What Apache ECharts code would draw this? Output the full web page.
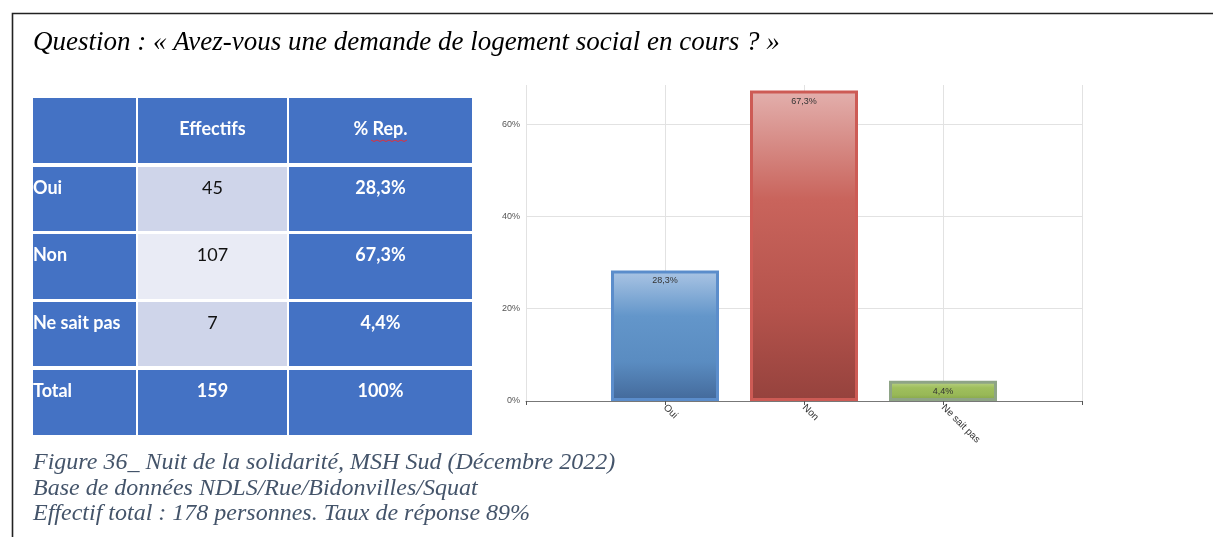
<!DOCTYPE html>
<html>
<head>
<meta charset="utf-8">
<script src="https://cdn.jsdelivr.net/npm/echarts@6/dist/echarts.min.js"></script>
<style>
  html, body { margin: 0; padding: 0; background: #fff; }
  #chart { width: 1213px; height: 537px; }
</style>
</head>
<body>
<div id="chart"></div>
<script>
// données du tableau / graphique
const question = 'Question : « Avez-vous une demande de logement social en cours ? »';
const categories = ['Oui', 'Non', 'Ne sait pas'];
const counts = [45, 107, 7];
const percents = [28.3, 67.3, 4.4];
const totalLabel = 'Total';
const totalCount = 159;
const totalPercent = '100%';
const headers = ['', 'Effectifs', '% Rep.'];
const yTicks = [0, 20, 40, 60];
const captionLines = [
    'Figure 36_ Nuit de la solidarité, MSH Sud (Décembre 2022)',
    'Base de données NDLS/Rue/Bidonvilles/Squat',
    'Effectif total : 178 personnes. Taux de réponse 89%'
];

// couleurs des barres (haut -> bas)
const barStyles = [
    { stops: ['#abc5e4', '#6396ca', '#5a8cc1', '#43699a'], border: '#5b8dcb' },
    { stops: ['#e3b0ad', '#c9645c', '#b5534c', '#95423d'], border: '#cd5b55' },
    { stops: ['#c0d68f', '#9fbf5d', '#98b857', '#80a046'], border: '#8ea486' }
];

const fmtPct = v => v.toFixed(1).replace('.', ',') + '%';

const chart = echarts.init(document.getElementById('chart'), null, { renderer: 'canvas' });

// tableau a gauche
const colX = [33, 138, 289];
const colW = [103, 149, 183];
const rowY = [98, 167, 234, 302, 370];
const rowH = [65, 64, 65, 64, 65];
const BLUE = '#4472c4';
const lightCells = ['#cfd5ea', '#e9ebf5', '#cfd5ea'];
const FONT = 'Lato, "Open Sans", sans-serif';

const graphics = [];

// cadre
graphics.push({
    type: 'polyline',
    shape: { points: [[12.5, 537], [12.5, 13.5], [1213, 13.5]] },
    style: { stroke: '#222', lineWidth: 1.6, fill: null }
});

graphics.push({
    type: 'text',
    style: {
        text: question, x: 33, y: 43, fill: '#000',
        font: 'italic 27px "Liberation Serif", "DejaVu Serif", serif',
        textVerticalAlign: 'middle'
    }
});

const rows = [headers];
categories.forEach((c, i) => rows.push([c, String(counts[i]), fmtPct(percents[i])]));
rows.push([totalLabel, String(totalCount), totalPercent]);

rows.forEach((row, r) => {
    row.forEach((txt, c) => {
        let fill = BLUE;
        let color = '#fff';
        let bold = true;
        if (r >= 1 && r <= categories.length && c === 1) {
            fill = lightCells[r - 1];
            color = '#111';
            bold = false;
        }
        graphics.push({
            type: 'rect',
            shape: { x: colX[c], y: rowY[r], width: colW[c], height: rowH[r] },
            style: { fill: fill }
        });
        if (txt) {
            const ty = r === 0 ? rowY[r] + 31 : rowY[r] + 21;
            graphics.push({
                type: 'text',
                style: {
                    text: txt,
                    x: c === 0 ? colX[c] : colX[c] + colW[c] / 2,
                    y: ty,
                    fill: color,
                    font: (bold ? 'bold ' : '') + '18px ' + FONT,
                    textAlign: c === 0 ? 'left' : 'center',
                    textVerticalAlign: 'middle'
                }
            });
        }
    });
});

// soulignement ondule rouge sous "Rep."
const wave = [];
for (let i = 0; i <= 12; i++) {
    wave.push([371 + i * 3, 140 + (i % 2 ? 1.5 : 0)]);
}
graphics.push({
    type: 'polyline',
    shape: { points: wave },
    style: { stroke: '#e0303a', lineWidth: 1, fill: null }
});

captionLines.forEach((line, i) => {
    graphics.push({
        type: 'text',
        style: {
            text: line, x: 33, y: 463 + i * 25.5, fill: '#44546a',
            font: 'italic 24px "Liberation Serif", "DejaVu Serif", serif',
            textVerticalAlign: 'middle'
        }
    });
});

const barData = categories.map((c, i) => ({
    value: percents[i],
    itemStyle: {
        color: new echarts.graphic.LinearGradient(0, 0, 0, 1, [
            { offset: 0, color: barStyles[i].stops[0] },
            { offset: 0.35, color: barStyles[i].stops[1] },
            { offset: 0.7, color: barStyles[i].stops[2] },
            { offset: 1, color: barStyles[i].stops[3] }
        ]),
        borderColor: barStyles[i].border,
        borderWidth: 3
    }
}));

const option = {
    animation: false,
    backgroundColor: '#fff',
    grid: { left: 526, right: 131, top: 85, bottom: 136, containLabel: false },
    xAxis: {
        type: 'category',
        data: [''].concat(categories, ['']),
        boundaryGap: false,
        axisLine: { show: true, lineStyle: { color: '#777', width: 1 } },
        axisTick: { show: true, length: 4, lineStyle: { color: '#555' } },
        splitLine: { show: true, lineStyle: { color: '#e2e2e2', width: 1 } },
        axisLabel: {
            interval: 0, rotate: -45, fontSize: 10, color: '#333', margin: 5,
            fontFamily: 'Arial, "Liberation Sans", sans-serif'
        }
    },
    yAxis: {
        type: 'value',
        min: 0,
        max: 68.5,
        interval: 20,
        axisLine: { show: false },
        axisTick: { show: false },
        splitLine: { show: true, showMaxLine: false, lineStyle: { color: '#e2e2e2', width: 1 } },
        axisLabel: {
            showMaxLabel: false,
            fontSize: 9, color: '#555', margin: 6,
            fontFamily: 'Arial, "Liberation Sans", sans-serif',
            formatter: v => (yTicks.indexOf(v) >= 0 ? v + '%' : '')
        }
    },
    series: [{
        type: 'bar',
        barWidth: 108,
        data: [null].concat(barData, [null]),
        label: {
            show: true,
            position: 'insideTop',
            distance: 6,
            fontSize: 9,
            color: '#333',
            fontFamily: 'Arial, "Liberation Sans", sans-serif',
            formatter: p => fmtPct(p.value)
        }
    }],
    graphic: graphics
};

chart.setOption(option);
window.addEventListener('resize', chart.resize);
</script>
</body>
</html>
